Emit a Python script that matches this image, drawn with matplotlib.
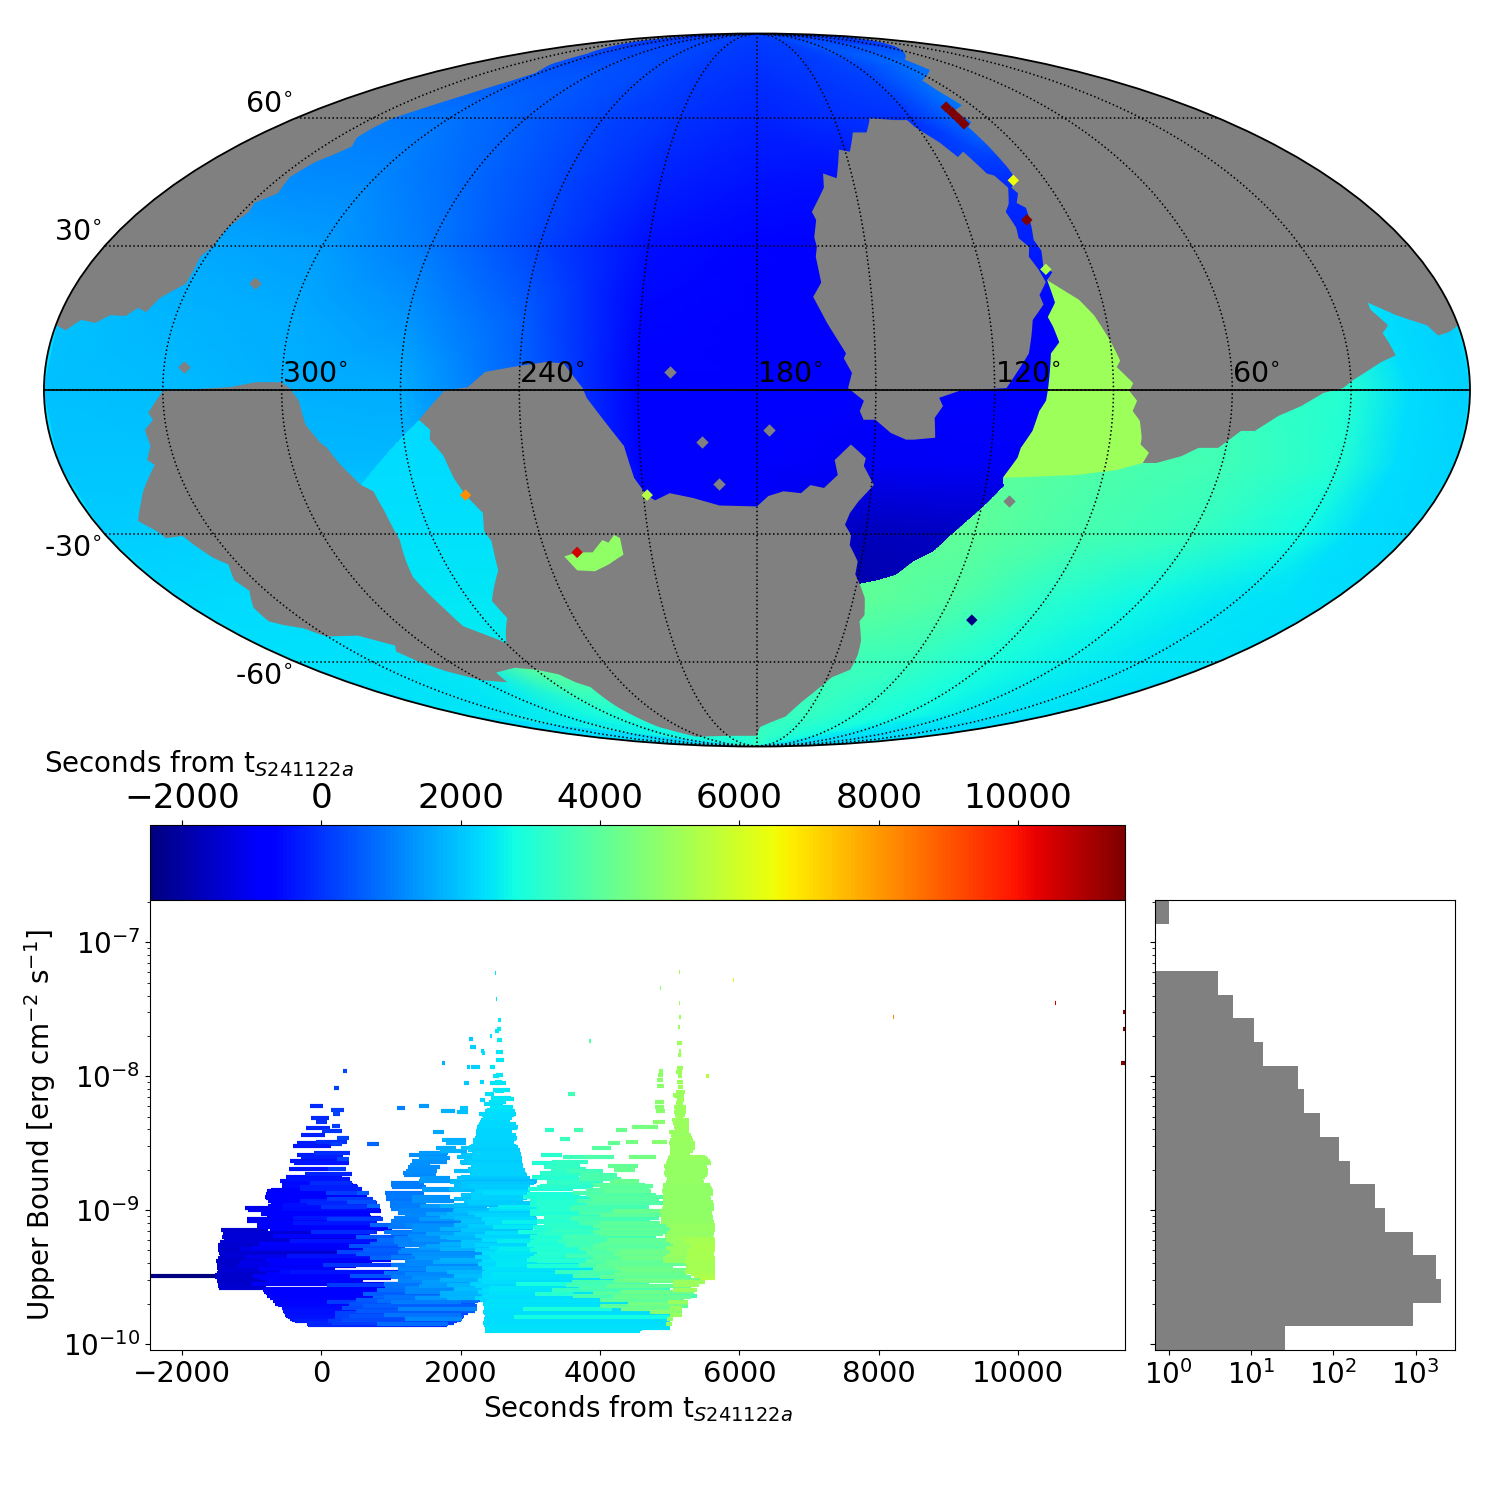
import numpy as np
import matplotlib
matplotlib.use('Agg')
import matplotlib.pyplot as plt
from matplotlib.patches import Polygon

# time range of the colour scale, seconds from the event
t_min = -2459.
t_max = 11535.
cb_ticks = [-2000, 0, 2000, 4000, 6000, 8000, 10000]
grey = '#808080'

# ---- sky map: outlines as (lon, lat) in degrees ----
nw_gray = [(360, 13.3), (357, 12.3), (354, 14.4), (350, 13.8), (347, 15.4), (343, 15.2), (340.5, 16.9), (338, 16),
           (336, 19), (331, 22), (331, 25), (331.5, 27.7), (330, 30), (330, 34), (328, 37.5), (329, 39.5),
           (325, 41.7), (327, 45.5), (325, 49), (322, 51), (320, 52.8), (323, 55), (323, 57.5), (322, 60),
           (317, 63), (311, 66.5), (304.5, 70.7), (302, 73), (308, 76), (309, 79.7), (326, 85.3), (323, 88),
           (360, 88), (360, 50)]

ne_gray = [(23, 87), (81, 77.5), (81, 74), (96, 70.7), (96, 67.5), (94, 63.5), (100, 62), (98, 59), (101, 57.7),
           (100, 53.3), (99, 47.5), (99, 44.7), (102, 43), (101, 41.7), (103, 39.5), (101, 38.4), (102, 34.4),
           (103, 31.3), (102, 29), (103, 25.5), (101, 24.4), (103, 22.7), (96, 18.6), (93, 15.4), (90, 10.2),
           (88, 6), (89, 4.7), (85, 1.4), (86, -0.2), (84, -2.2), (85, -4.3), (83, -6.3), (82, -9.8), (82, -11.2),
           (79.5, -12.9), (80.5, -15), (77, -15), (71, -13.6), (67, -11.9), (62, -11.9), (59, -9.8), (57, -8.4),
           (53.5, -8.4), (48, -5.3), (42.5, -3.3), (37, -0.6), (32, 0.4), (29.5, 2), (22, 5.7), (18, 7.1),
           (19, 9.6), (20, 11.7), (18, 13.3), (21, 16.5), (21, 18), (15, 15.4), (11.5, 14.3), (8, 13.3),
           (6, 11.2), (3, 11.9), (0, 13.3), (0, 40), (0, 70), (0, 87)]

island_gray = [(136, 60), (127, 59.5), (122, 59.5), (121, 57.7), (116, 53.8), (113, 50.2), (110, 51.5), (107, 46.3),
               (105, 45.8), (103, 43), (105.5, 39.3), (107.5, 37.5), (106.5, 34), (107, 31.7), (105, 29.8),
               (106, 27.7), (104.5, 25), (103.5, 22.3), (106, 19.6), (105.5, 17.6), (109, 14.4), (110, 10.8),
               (111, 7.5), (117, 0.4), (129, -0.2), (134, -1.6), (133, -3.3), (135, -5.7), (134.6, -9.8), (140, -10.2),
               (142, -10.2), (146, -8.8), (150, -6.1), (153, -6.1), (154, -4.3), (153, -2.2), (157, 0.4), (156, 3.5),
               (158, 6.5), (157.4, 7.5), (162, 13.8), (165.3, 19.2), (163, 22.2), (164, 27.7), (163.5, 29.8),
               (164, 31.9), (163, 35.7), (164, 37.5), (159.5, 43), (159, 46.3), (155, 45.2), (152, 52),
               (148.5, 51.5), (145, 56.3), (140, 56.3)]

south_gray = [(330, -0.2), (334, -4.7), (333, -6.1), (335.5, -8.2), (335, -11.5), (337, -14.4), (335.5, -15.4),
              (341.6, -20.9), (344, -23.4), (348, -27.2), (345, -29.4), (344, -30.9), (339, -30.4), (337.6, -32.6),
              (335.6, -35.2), (333, -36.7), (336, -40.2), (335, -42.6), (340.5, -46.6), (342, -49.8), (339, -50.7),
              (334, -51.5), (330.5, -53.5), (319, -53.3), (311, -55.8), (314, -57.3), (312, -59.8), (308, -62.4),
              (300, -65), (290, -65.6), (288, -62.9), (277.6, -61.6), (270, -62.1), (263, -63.4), (260, -65.6),
              (256, -67), (257, -73.2), (256, -80), (246, -84), (207, -83.6), (180, -83.6), (177.6, -80),
              (162, -76.2), (157, -71.7), (153, -68.6), (148, -64.2), (142, -62.1), (142, -58.2), (143, -54.7),
              (146, -49.8), (145, -48.3), (146.5, -44.3), (149, -41.2), (151, -38.9), (151, -36), (154, -32.4),
              (154, -30.2), (156, -28), (155, -25.5), (153, -23), (149.4, -19.6), (152.4, -15.6), (152, -14),
              (156, -11.2), (160, -14.4), (159, -17.5), (162.4, -20.2), (166, -19.6), (168.4, -21.3), (173, -20.9),
              (177, -21.9), (180, -24.1), (190, -23.9), (197, -22.3), (203, -21.3), (207, -22.8), (209, -21.9),
              (212, -18.1), (214, -11.5), (217, -8.2), (223, -1.6), (224, 0.4), (229, 5.5), (233.7, 5.7),
              (242, 4.7), (248.7, 3.7), (253, 0.6), (259, -0.2), (265.6, -6.1), (263, -8.2), (263.4, -10.2),
              (260.5, -13.5), (259, -18.1), (257, -21.7), (253.7, -25.5), (255, -29.4), (254, -31.5), (254.5, -33.7),
              (255.7, -38), (263, -45), (262, -49), (270, -55.3), (271, -54.5), (279, -51), (280, -46.6), (281, -43.5),
              (282, -39.5), (281, -36), (279.4, -31.3), (279.7, -28), (280, -25), (281, -20.9), (283.7, -19.6),
              (287.5, -15.4), (290, -11.9), (291.5, -10.8), (294.5, -7.1), (295.7, -2.2), (298, 0.4), (300, 1.6),
              (306.5, 1.6), (313, 0.6)]

# blue / green edge of the late south-east exposure
se_outline = [(180, -90), (180, -70), (160, -50), (149, -41), (144, -40.2), (139, -39), (135, -36), (130, -33.7),
              (126.4, -30.2), (119.3, -23.9), (115.3, -19.8), (116, -18.1), (100, -15), (80, -10), (60, 5), (20, 30),
              (0, 30), (0, 20), (0, 10), (0, 0), (0, -10), (0, -20), (0, -30), (0, -40), (0, -50), (0, -60), (0, -70),
              (0, -80), (0, -85), (0, -90)]

wedge_outline = [(103, 22.7), (102.4, 18), (105, 15), (104, 12.9), (103, 9.8), (105.4, 7.5), (106.5, 0.4), (107, -2.2),
                 (108.6, -4.3), (110, -8.4), (112.5, -11.9), (113, -13.9), (116, -18.1), (97, -17.5), (87, -16.5),
                 (80.5, -15), (70, -10), (85, 25), (95, 28)]
wedge_time = 5100.

strip_outline = [(265.6, -6.1), (235, -20), (235, -56), (300, -56), (300, -20), (283.7, -19.6)]
strip_lons = [300, 235]
strip_lats = [0, -20, -40, -60]
strip_times = [[2250, 2250], [2350, 2350], [2450, 2450], [2520, 2520]]

patch_outline = [(235, -34.9), (232.6, -38), (227.5, -38.2), (223, -36.7), (218, -34.5), (218, -30.9), (219.5, -30.2),
                 (221.5, -31.9), (223, -31.3), (226.6, -34), (231, -34)]
patch_time = 4900.

# polar cap under the coarse time table
cap_outline = [(360, 80), (270, 80), (180, 80), (90, 80), (0, 80), (0, 90), (360, 90)]
cap_time = 150.

# arrival time tables (lat rows, lon columns)
base_lons = [360, 330, 300, 270, 240, 210, 180, 150, 120, 90, 0]
base_lats = [90, 75, 60, 45, 30, 15, 0, -15, -30, -45, -60, -75, -90]
base_times = [
    [150, 150, 150, 150, 150, 150, 150, 150, 150, 150, 150],
    [400, 400, 400, 400, 300, 100, -50, 100, 250, 800, 800],
    [1000, 1000, 900, 600, 250, -50, -250, -100, 50, 1100, 1100],
    [1300, 1250, 1200, 720, 250, -270, -450, -500, -100, -100, 2200],
    [1650, 1600, 1450, 950, 250, -500, -700, -800, -300, -300, 2200],
    [1950, 1800, 1650, 1350, 600, -650, -800, -850, -850, -850, 2200],
    [1950, 1900, 1750, 1650, 700, -800, -850, -850, -850, -850, 2200],
    [2000, 2000, 1850, 1850, 700, -850, -850, -1000, -950, -1000, 2200],
    [2100, 2150, 2300, 2300, 2300, -900, -900, -1700, -1600, -1500, 2250],
    [2250, 2350, 2400, 2400, 2400, -900, -900, -1900, -1700, -1500, 2350],
    [2400, 2400, 2450, 4200, 4000, 3500, 3300, 3300, 3300, 3000, 2400],
    [2420, 2450, 2600, 3000, 3100, 3100, 3300, 3300, 3100, 3000, 2400],
    [3000, 3000, 3000, 3000, 3000, 3100, 3300, 3300, 3100, 3000, 2400],
]

se_lons = [180, 150, 120, 90, 60, 30, 15, 0]
se_lats = [30, 0, -15, -30, -45, -60, -75, -90]
se_times = [
    [4000, 4000, 3900, 3700, 3400, 3100, 2300, 2150],
    [4000, 4000, 3900, 3700, 3400, 3050, 2300, 2150],
    [4100, 4100, 4000, 3750, 3500, 3050, 2350, 2200],
    [4100, 4100, 4000, 3650, 3350, 2750, 2350, 2250],
    [4100, 4050, 3800, 3150, 2700, 2450, 2380, 2350],
    [3600, 3500, 3350, 2900, 2600, 2450, 2420, 2400],
    [3400, 3350, 3050, 2800, 2550, 2450, 2420, 2400],
    [3300, 3100, 3000, 2800, 2550, 2450, 2420, 2400],
]

# single masked / outlying pixels
gray_spot_lon = [313, 325, 202, 194, 177, 190, 113]
gray_spot_lat = [22.2, 4.7, 3.7, -10.6, -8.2, -19.4, -23]
pix_lon = [100, 102.5, 209, 257, 231, 109, 102.5, 101.5, 101.5, 101.5, 101.5]
pix_lat = [44.7, 25, -21.7, -21.7, -34, -49.5, 35.7, 58.5, 60, 61.5, 63]
pix_time = [6500, 5400, 5500, 8200, 10550, -2400, 11500, 11500, 11500, 11500, 11500]

lon_labels = [300, 240, 180, 120, 60]
lat_labels = [60, 30, -30, -60]

# ---- upper bound vs. time: (log10 bound, start, end) ----
early_bars = [
    (-7.96, 316, 373), (-8.09, 187, 258), (-8.22, -158, 29), (-8.25, 144, 330), (-8.28, 172, 273), (-8.31, -143, 115),
    (-8.34, -72, 86), (-8.39, -215, 129), (-8.37, 158, 273), (-8.41, 14, 301), (-8.44, -287, 57), (-8.46, 230, 402),
    (-8.49, -72, 373), (-8.5, -344, 143), (-8.52, -402, 143), (-8.51, 143, 301), (-8.51, 660, 832), (-8.57, -100, 416),
    (-8.59, -344, 230), (-8.6, -287, 316), (-8.63, -445, 230), (-8.62, 230, 402), (-8.65, -387, 402), (-8.69, -459, 100),
    (-8.69, 100, 359), (-8.73, -230, 445), (-8.77, -488, 416), (-8.78, -588, 273), (-8.8, -158, 445), (-8.82, -560, 517),
    (-8.84, -301, 588), (-8.85, -717, 72), (-8.86, -775, -301), (-8.87, 517, 689), (-8.87, 72, 603), (-8.9, -804, 143),
    (-8.92, 86, 746), (-8.93, -761, 29), (-8.95, -717, 373), (-8.94, 373, 789), (-8.96, -545, 660), (-8.97, 660, 847),
    (-8.985, -1090, 0), (-8.98, 0, 660), (-8.99, -560, 847), (-9.02, -861, 316), (-9.04, -775, 703), (-9.07, -1062, 86),
    (-9.07, 86, 890), (-9.11, -918, 746), (-9.14, -732, 1020), (-9.15, -1435, -760), (-9.17, -1406, -143),
    (-9.16, -143, 804), (-9.2, -1420, -445), (-9.22, -1377, 517), (-9.23, -445, 1277), (-9.26, -1478, -804),
    (-9.29, -1478, -1162), (-9.29, -1162, 1020), (-9.32, -1464, 230), (-9.31, 230, 1277), (-9.34, -1406, -488),
    (-9.34, -488, 1420), (-9.38, -1506, -1162), (-9.39, -1162, 732), (-9.43, -1492, -732), (-9.4, -732, 29),
    (-9.41, 29, 1822), (-9.45, -1420, -445), (-9.46, -445, 1392), (-9.485, -1521, -732), (-9.49, -2459, -1521),
    (-9.49, -976, 416), (-9.49, 416, 1808), (-9.53, -1492, -760), (-9.52, -775, 603), (-9.57, -1478, -832),
    (-9.6, -832, 890), (-9.56, 86, 1851), (-9.58, 918, 1851), (-9.64, -775, 746), (-9.65, 746, 1593), (-9.68, -689, 86),
    (-9.69, 86, 1636), (-9.75, -545, 1464), (-9.78, -517, 890), (-9.8, -474, 1665), (-9.83, -373, 416), (-9.84, -201, 1822),
    (-8.75, -500, 300), (-8.79, -550, 400), (-8.81, -570, 450), (-8.83, -300, 520), (-8.88, -790, 100), (-8.89, -760, 650),
    (-8.91, -800, 50), (-8.93, -300, 700), (-8.95, -200, 800), (-8.97, -770, 600), (-9.0, -1050, 300), (-9.01, -850, 850),
    (-9.03, -860, 500), (-9.05, -780, 720), (-9.06, -400, 850), (-9.08, -1060, 400), (-9.09, -900, 700), (-9.1, -400, 800),
    (-9.12, -920, 750), (-9.13, -900, 300), (-9.18, -1400, -300), (-9.19, -700, 700), (-9.21, -1390, 0), (-9.24, -1450, -500),
    (-9.25, -900, 900), (-9.27, -1470, -200), (-9.28, -1000, 600), (-9.3, -1480, -800), (-9.33, -1450, 100), (-9.35, -1100, 800),
    (-9.36, -1480, -300), (-9.37, -800, 1000), (-9.41, -1500, -600), (-9.42, -1200, 500), (-9.44, -1480, -300), (-9.47, -1500, -200),
    (-9.48, -800, 900), (-9.5, -1520, -500), (-9.51, -900, 1000), (-9.54, -1490, -600), (-9.55, -1000, 1100), (-9.58, -1470, -800),
    (-9.59, -800, 1200), (-9.61, -820, 700), (-9.62, -790, 1000), (-9.63, -780, 600), (-9.66, -740, 1200), (-9.67, -700, 800),
    (-9.7, -660, 1300), (-9.71, -620, 500), (-9.73, -570, 900), (-9.74, -550, 1500), (-9.76, -530, 1100), (-9.77, -520, 1400),
    (-9.79, -500, 1200), (-9.81, -450, 1500), (-9.82, -420, 900), (-9.85, -200, 1800), (-9.86, -190, 1800),
    (-9.11, 700, 1100), (-9.2, 500, 1500), (-9.22, 800, 1350), (-9.25, 700, 1400), (-9.27, 400, 1200), (-9.3, 600, 1300),
    (-9.33, 500, 1300), (-9.36, 700, 1400), (-9.44, -900, 200), (-9.46, -600, 400),
]

mid_bars = [
    (-7.9, 1736, 1780), (-8.24, 1090, 1205), (-8.22, 1406, 1550), (-8.26, 1722, 1923), (-8.42, 1607, 1765),
    (-8.48, 1736, 2081), (-8.54, 1650, 1937), (-8.57, 1406, 1822), (-8.59, 1263, 1808), (-8.61, 1406, 1851),
    (-8.63, 1306, 1750), (-8.66, 1277, 1564), (-8.71, 1220, 1665), (-8.72, 1177, 1607), (-8.76, 1420, 1851),
    (-8.81, 1005, 1464), (-8.87, 918, 1464), (-8.84, 1450, 1851), (-8.9, 933, 1306), (-8.9, 1306, 1851),
    (-8.97, 990, 1420), (-8.97, 1420, 1851), (-9.0, 1100, 2300), (-9.04, 1200, 2400), (-9.08, 1000, 2200),
    (-9.12, 1300, 2500), (-9.16, 900, 2200), (-9.19, 1250, 2600), (-9.24, 1050, 2400), (-9.28, 1400, 2500),
    (-9.31, 1100, 2450), (-9.36, 1350, 2550), (-9.4, 1200, 2500), (-9.43, 1500, 2500), (-9.47, 900, 2300),
    (-9.51, 1300, 2300), (-9.54, 1450, 2400), (-9.58, 1200, 2400), (-9.62, 1700, 2650), (-9.66, 1350, 2300),
    (-9.69, 1000, 2000), (-9.74, 1100, 2240), (-9.78, 900, 2000), (-9.81, 1200, 2020), (-9.85, 800, 1822),
    (-8.64, 1300, 1800), (-8.68, 1250, 1700), (-8.74, 1180, 1650), (-8.78, 1400, 1850), (-8.8, 1000, 1480), (-8.83, 1020, 1500),
    (-8.85, 1450, 1900), (-8.88, 950, 1480), (-8.92, 930, 1450), (-8.93, 1300, 1900), (-8.95, 990, 1500), (-8.99, 1000, 1750),
    (-9.02, 1100, 2000), (-9.03, 1500, 2300), (-9.06, 1050, 1800), (-9.07, 1400, 2300), (-9.1, 1000, 2400), (-9.11, 1200, 2300),
    (-9.13, 950, 1900), (-9.15, 1300, 2400), (-9.17, 1000, 2200), (-9.18, 1500, 2500), (-9.21, 1050, 2400), (-9.22, 1300, 2500),
    (-9.26, 1100, 2500), (-9.27, 1500, 2500), (-9.3, 1150, 2500), (-9.33, 1300, 2550), (-9.35, 1000, 2400), (-9.38, 1200, 2400),
    (-9.39, 1600, 2500), (-9.41, 1000, 2500), (-9.44, 1100, 2300), (-9.45, 1500, 2500), (-9.48, 1200, 2300), (-9.5, 1000, 2400),
    (-9.53, 1100, 2300), (-9.55, 900, 2300), (-9.57, 1400, 2400), (-9.6, 800, 2300), (-9.61, 1200, 2300), (-9.63, 600, 2300),
    (-9.65, 900, 2300), (-9.67, 500, 2300), (-9.68, 800, 2250), (-9.7, 400, 2200), (-9.72, 600, 2240), (-9.73, 300, 2200),
    (-9.75, 500, 2200), (-9.77, 200, 2100), (-9.79, 400, 2050), (-9.8, 200, 2040), (-9.82, 300, 2000), (-9.83, 100, 1950),
    (-9.84, 150, 1900),
    (-9.46, 1800, 2500), (-9.49, 1900, 2500), (-9.52, 1700, 2500), (-9.56, 1800, 2500), (-9.59, 1900, 2450),
    (-9.62, 1800, 2450), (-9.64, 1700, 2450), (-9.66, 1800, 2400),
]

cyan_bars = [
    (-7.23, 2497, 2511), (-7.42, 2511, 2525), (-7.58, 2540, 2583), (-7.65, 2525, 2583), (-7.66, 2497, 2554),
    (-7.7, 2425, 2454), (-7.73, 2525, 2597), (-7.72, 2124, 2181), (-7.78, 2138, 2224), (-7.81, 2296, 2339),
    (-7.83, 2310, 2353), (-7.82, 2511, 2612), (-7.88, 2511, 2626), (-7.93, 2095, 2138), (-7.93, 2153, 2282),
    (-7.93, 2425, 2497), (-7.99, 2511, 2612), (-8.0, 2468, 2554), (-8.04, 2497, 2597), (-8.04, 2282, 2339),
    (-8.05, 2052, 2124), (-8.05, 2425, 2655), (-8.1, 2468, 2712), (-8.11, 2497, 2626), (-8.13, 2353, 2483),
    (-8.16, 2440, 2726), (-8.18, 2282, 2353), (-8.17, 2468, 2770), (-8.21, 2339, 2612), (-8.25, 2382, 2755),
    (-8.24, 1995, 2110), (-8.27, 1952, 2110), (-8.28, 2267, 2798), (-8.31, 2325, 2741), (-8.34, 2282, 2712),
    (-8.38, 2239, 2827), (-8.41, 2224, 2741), (-8.46, 2210, 2813), (-8.5, 1794, 2081), (-8.5, 2181, 2770),
    (-8.54, 2009, 2827), (-8.56, 1708, 2095), (-8.57, 2167, 2856), (-8.6, 1952, 2856), (-8.61, 2167, 2885),
    (-8.64, 1995, 2813), (-8.68, 2167, 2899), (-8.73, 2138, 2942), (-8.78, 1851, 3100), (-8.84, 1837, 2741),
    (-8.87, 2325, 2999), (-8.9, 2181, 2899), (-8.94, 2110, 2899), (-8.97, 1708, 2382), (-8.98, 2540, 3100),
    (-9.01, 1894, 2999), (-9.05, 1708, 2612), (-9.09, 2597, 3100), (-9.14, 1708, 2468), (-9.13, 2468, 3042),
    (-9.2, 1708, 2526), (-9.16, 2827, 3573), (-9.23, 2526, 3100), (-9.25, 1708, 3042), (-9.29, 2540, 3860),
    (-9.29, 1708, 2569), (-9.34, 2425, 2956), (-9.37, 1708, 2425), (-9.37, 2956, 4104), (-9.42, 2956, 3960),
    (-9.49, 2325, 3616), (-9.49, 3616, 4965), (-9.55, 2138, 3042), (-9.55, 2798, 4334), (-9.59, 2425, 3430),
    (-9.63, 3071, 3616), (-9.66, 2210, 3143), (-9.72, 2353, 4004), (-9.74, 2899, 4176), (-9.76, 2325, 4721),
    (-9.8, 2770, 5008), (-9.84, 2325, 4965), (-9.87, 2353, 5008), (-9.9, 2353, 4578),
    (-8.19, 2400, 2650), (-8.23, 2420, 2750), (-8.26, 2350, 2780), (-8.29, 2300, 2770), (-8.3, 2330, 2720), (-8.33, 2290, 2700),
    (-8.36, 2270, 2800), (-8.37, 2250, 2760), (-8.39, 2240, 2810), (-8.43, 2230, 2720), (-8.44, 2220, 2800), (-8.47, 2200, 2790),
    (-8.48, 2180, 2770), (-8.52, 2150, 2800), (-8.53, 2120, 2830), (-8.55, 2100, 2850), (-8.58, 2160, 2860), (-8.59, 2000, 2860),
    (-8.62, 2050, 2880), (-8.63, 2100, 2850), (-8.65, 2000, 2880), (-8.66, 2150, 2890), (-8.69, 2100, 2900), (-8.7, 2150, 2920),
    (-8.71, 1900, 2900), (-8.74, 2130, 2950), (-8.75, 2000, 2950), (-8.76, 1950, 3000), (-8.79, 1850, 3080), (-8.8, 2000, 3050),
    (-8.81, 1900, 2900), (-8.82, 2100, 3000), (-8.83, 2000, 2950), (-8.85, 1900, 3000), (-8.86, 2200, 3000), (-8.88, 2150, 2950),
    (-8.89, 2000, 2900), (-8.91, 2150, 2950), (-8.92, 1900, 2900), (-8.93, 2050, 2900), (-8.95, 2100, 3000), (-8.96, 1900, 3050),
    (-8.99, 2400, 3100), (-9.0, 1900, 3000), (-9.02, 2100, 3020), (-9.03, 1800, 3000), (-9.04, 2200, 3050), (-9.06, 1900, 3080),
    (-9.07, 2300, 3100), (-9.08, 2000, 3100), (-9.1, 2350, 3100), (-9.11, 1900, 3050), (-9.12, 2100, 3060), (-9.15, 2000, 3040),
    (-9.17, 2350, 3100), (-9.18, 1900, 3060), (-9.19, 2200, 3100), (-9.21, 1800, 3050), (-9.22, 2300, 3100), (-9.24, 2000, 3070),
    (-9.26, 2200, 3100), (-9.27, 2000, 3200), (-9.28, 2400, 3400), (-9.3, 2200, 3100), (-9.31, 2500, 3500), (-9.32, 2300, 3200),
    (-9.33, 2400, 3300), (-9.35, 2200, 3600), (-9.36, 2450, 3600), (-9.38, 2300, 3500), (-9.39, 2500, 3800), (-9.4, 2250, 3700),
    (-9.41, 2500, 3800), (-9.43, 2300, 3900), (-9.44, 2400, 3900), (-9.45, 2350, 4000), (-9.47, 2300, 3900), (-9.48, 2450, 4100),
    (-9.5, 2300, 4200), (-9.51, 2400, 4300), (-9.52, 2250, 4200), (-9.53, 2350, 4300), (-9.54, 2300, 4400), (-9.57, 2200, 4300),
    (-9.58, 2400, 4500), (-9.6, 2300, 4600), (-9.61, 2250, 4500), (-9.62, 2400, 4700), (-9.64, 2300, 4500), (-9.65, 2350, 4800),
    (-9.67, 2280, 4600), (-9.68, 2400, 4900), (-9.69, 2350, 4800), (-9.7, 2320, 4950), (-9.71, 2350, 4900), (-9.73, 2340, 4980),
    (-9.75, 2330, 5000), (-9.77, 2330, 5000), (-9.78, 2350, 4990), (-9.79, 2350, 5010), (-9.81, 2340, 5000), (-9.82, 2330, 5010),
    (-9.83, 2340, 4990), (-9.85, 2350, 5000), (-9.86, 2340, 5010), (-9.88, 2360, 5000), (-9.89, 2360, 4600),
]

green_bars = [
    (-8.59, 3157, 3458), (-8.4, 3214, 3343), (-8.4, 3630, 3760), (-8.47, 3430, 3573), (-8.13, 3544, 3644),
    (-7.74, 3846, 3875), (-8.4, 4233, 4391), (-8.38, 4463, 4836), (-8.5, 4118, 4291), (-8.49, 4377, 4549),
    (-8.54, 3889, 4162), (-8.6, 3473, 3903), (-8.6, 3760, 4205), (-8.6, 4420, 4807), (-8.65, 3028, 3573),
    (-8.64, 3315, 3832), (-8.67, 3243, 3717), (-8.67, 4118, 4549), (-8.72, 3143, 3530), (-8.71, 3530, 4047),
    (-8.74, 3717, 4248), (-8.75, 3028, 3616), (-8.79, 3243, 4047), (-8.79, 4147, 4549), (-8.82, 3143, 3700),
    (-8.82, 4004, 4764), (-8.84, 2970, 3616), (-8.86, 4047, 4735), (-8.87, 3616, 4477), (-8.9, 2899, 3717),
    (-8.9, 3860, 4908), (-8.93, 3000, 3800), (-8.93, 3674, 4621), (-8.97, 3100, 3700), (-8.99, 3573, 4678),
    (-9.01, 4190, 4908), (-9.01, 3000, 3900), (-9.08, 3100, 3600), (-9.07, 3573, 4721), (-9.1, 4004, 4865),
    (-9.13, 3042, 4047), (-9.14, 4004, 5051), (-9.2, 3458, 4578), (-9.24, 3530, 4764), (-9.28, 3903, 4965),
    (-9.31, 4291, 5008), (-9.34, 3516, 4764), (-9.39, 4075, 4865), (-9.42, 3946, 4764), (-9.43, 4219, 5051),
    (-9.46, 3358, 4678), (-9.52, 4334, 5439), (-9.56, 3516, 4391), (-9.6, 3315, 5008), (-9.64, 3616, 5396),
    (-9.72, 4004, 5266), (-9.76, 4721, 5180),
    (-8.68, 3200, 3650), (-8.69, 3300, 3800), (-8.7, 4200, 4500), (-8.73, 3200, 3900), (-8.76, 3100, 3700), (-8.77, 3700, 4300),
    (-8.78, 4200, 4560), (-8.8, 3250, 4000), (-8.81, 3900, 4650), (-8.83, 3100, 3900), (-8.85, 3800, 4700), (-8.88, 2950, 3700),
    (-8.89, 3800, 4800), (-8.91, 3000, 3900), (-8.92, 3900, 4850), (-8.94, 3100, 4000), (-8.95, 3800, 4900), (-8.96, 3000, 3800),
    (-8.98, 3600, 4700), (-9.0, 3100, 4100), (-9.02, 3700, 4900), (-9.03, 3000, 3900), (-9.04, 4000, 4920), (-9.05, 3200, 4200),
    (-9.06, 3600, 4850), (-9.09, 3100, 3900), (-9.1, 3700, 4800), (-9.11, 3200, 4300), (-9.12, 3900, 4950), (-9.15, 3300, 4300),
    (-9.16, 3900, 5000), (-9.17, 3200, 4400), (-9.18, 4000, 4900), (-9.19, 3500, 4500), (-9.21, 3600, 4800), (-9.22, 4100, 5000),
    (-9.23, 3400, 4600), (-9.25, 4000, 5000), (-9.26, 3500, 4700), (-9.27, 3900, 5100), (-9.29, 3700, 4900), (-9.3, 4100, 5100),
    (-9.32, 3800, 5000), (-9.33, 4200, 5050), (-9.35, 3900, 5000), (-9.36, 4300, 5200), (-9.38, 3800, 5000), (-9.4, 4100, 5250),
    (-9.41, 3700, 4900), (-9.44, 3900, 5050), (-9.45, 4300, 5260), (-9.47, 3700, 4900), (-9.48, 4200, 5250), (-9.5, 4000, 5300),
    (-9.53, 4200, 5400), (-9.54, 3600, 4700), (-9.57, 4100, 5300), (-9.58, 3700, 4900), (-9.61, 4300, 5350), (-9.62, 3900, 5000),
    (-9.65, 4200, 5300), (-9.67, 4000, 5200), (-9.7, 4400, 5250), (-9.74, 4300, 5100),
    (-9.14, 3050, 3800), (-9.16, 3000, 3700), (-9.18, 3100, 3800), (-9.2, 3000, 3700), (-9.22, 3050, 3900), (-9.24, 3000, 3700),
    (-9.26, 2950, 3800), (-9.28, 3050, 3950), (-9.3, 3000, 3800), (-9.32, 3100, 3900), (-9.34, 3050, 3800), (-9.36, 3000, 3700),
    (-9.38, 3100, 3900),
]

late_bars = [
    (-8.34, 4764, 4936), (-8.49, 4750, 4965), (-8.19, 4793, 4922), (-8.23, 4793, 4922), (-8.26, 4807, 4936),
    (-8.07, 4822, 4922), (-8.03, 4822, 4908), (-7.99, 4836, 4908), (-7.96, 4850, 4908), (-7.34, 4865, 4879),
    (-7.22, 5137, 5152), (-7.45, 5137, 5152), (-7.56, 5137, 5166), (-7.63, 5123, 5152), (-7.75, 5108, 5180),
    (-7.81, 5137, 5166), (-7.84, 5123, 5166), (-7.94, 5108, 5195), (-7.97, 5094, 5180), (-8.0, 5123, 5180),
    (-8.04, 5108, 5195), (-8.08, 5123, 5195), (-8.12, 5094, 5223), (-8.14, 5051, 5137), (-8.22, 5094, 5180),
    (-8.23, 5065, 5238), (-8.27, 5065, 5238), (-8.31, 5094, 5195), (-8.33, 5037, 5281), (-8.4, 5080, 5281),
    (-8.42, 4994, 5281), (-8.46, 5037, 5324), (-8.5, 4994, 5367), (-8.54, 5008, 5367), (-8.58, 5008, 5295),
    (-8.61, 4979, 5539), (-8.0, 5525, 5568), (-7.28, 5912, 5930), (-8.63, 4965, 5582), (-8.67, 4922, 5539),
    (-8.72, 4922, 5553), (-8.77, 4965, 5482), (-8.81, 4908, 5582), (-8.86, 4894, 5625), (-8.9, 4908, 5582),
    (-8.96, 4908, 5640), (-9.01, 4865, 5610), (-9.07, 4879, 5625), (-9.13, 5008, 5654), (-9.19, 4936, 5625),
    (-9.22, 5295, 5654), (-9.28, 5324, 5654), (-9.34, 5266, 5640), (-9.39, 5223, 5654), (-9.46, 5223, 5654),
    (-9.51, 5439, 5654), (-9.54, 5051, 5510), (-9.56, 5051, 5424), (-9.6, 5051, 5396), (-9.69, 4979, 5266),
    (-9.73, 5008, 5180), (-9.78, 5008, 5180), (-9.81, 4965, 5051), (-9.85, 4950, 5037),
    (-7.56, 8208, 8225), (-7.45, 10533, 10550), (-7.52, 11510, 11535), (-7.65, 11510, 11535), (-7.9, 11480, 11535),
    (-8.15, 5060, 5210), (-8.18, 5100, 5200), (-8.2, 5090, 5190), (-8.25, 5080, 5230), (-8.29, 5080, 5220), (-8.35, 5050, 5280),
    (-8.36, 5060, 5250), (-8.38, 5060, 5280), (-8.44, 5020, 5310), (-8.48, 5000, 5340), (-8.52, 5000, 5370), (-8.56, 5010, 5340),
    (-8.6, 4990, 5500), (-8.62, 4970, 5550), (-8.65, 4950, 5590), (-8.69, 4930, 5530), (-8.7, 4950, 5550), (-8.74, 4930, 5540),
    (-8.75, 4960, 5500), (-8.79, 4950, 5490), (-8.83, 4900, 5590), (-8.84, 4920, 5610), (-8.88, 4900, 5620), (-8.92, 4900, 5600),
    (-8.93, 4920, 5590), (-8.94, 4900, 5620), (-8.98, 4900, 5640), (-8.99, 4890, 5630), (-9.03, 4870, 5610), (-9.05, 4880, 5620),
    (-9.09, 4880, 5630), (-9.11, 4950, 5650), (-9.15, 5000, 5650), (-9.17, 4960, 5630), (-9.21, 5100, 5640), (-9.24, 5200, 5650),
    (-9.26, 5300, 5650), (-9.3, 5280, 5650), (-9.32, 5250, 5640), (-9.36, 5250, 5650), (-9.37, 5230, 5650), (-9.41, 5230, 5650),
    (-9.43, 5230, 5650), (-9.48, 5300, 5650), (-9.49, 5350, 5650),
    (-9.2, 5000, 5300), (-9.22, 4950, 5300), (-9.24, 5000, 5350), (-9.26, 5050, 5350), (-9.28, 4950, 5330), (-9.3, 5000, 5300),
    (-9.32, 5000, 5260), (-9.34, 4950, 5270), (-9.36, 4900, 5260), (-9.38, 4900, 5230),
]

ub_ticks = [1e-10, 1e-9, 1e-8, 1e-7]
count_ticks = [1, 10, 100, 1000]

# ---- histogram of upper bounds ----
hist_log_edges = np.linspace(-10.045, -6.684, 20)
hist_counts = [26, 924, 2025, 1760, 924, 422, 318, 158, 116, 70, 44, 37, 14, 11, 6, 4, 0, 0, 1]

cmap = plt.get_cmap('jet')
norm = matplotlib.colors.Normalize(t_min, t_max)


def sky(lon, lat):
    return np.radians(180. - np.asarray(lon, dtype=float)), np.radians(np.asarray(lat, dtype=float))


def sky_xy(outline):
    lon, lat = zip(*outline)
    x, y = sky(lon, lat)
    return np.column_stack((x, y))


def field(ax, lons, lats, times, outline=None):
    # smooth arrival time field, optionally cut down to one exposure
    x, y = np.meshgrid(lons, lats)
    x, y = sky(x, y)
    mesh = ax.pcolormesh(x, y, np.array(times, dtype=float), cmap=cmap, norm=norm, shading='gouraud', zorder=1)
    if outline is not None:
        mesh.set_clip_path(Polygon(sky_xy(outline), closed=True, transform=ax.transData))


fig = plt.figure(figsize=(15, 15))

ax_sky = fig.add_axes([0.0293, 0.502, 0.9507, 0.476], projection='mollweide')
ax_sky.set_facecolor(cmap(norm(2350)))
ax_sky.add_patch(Polygon(sky_xy(cap_outline), closed=True, fc=cmap(norm(cap_time)), ec='none', zorder=0.9))
field(ax_sky, base_lons, base_lats, base_times)
field(ax_sky, se_lons, se_lats, se_times, se_outline)
field(ax_sky, strip_lons, strip_lats, strip_times, strip_outline)
ax_sky.add_patch(Polygon(sky_xy(wedge_outline), closed=True, fc=cmap(norm(wedge_time)), ec='none', zorder=1.2))
for outline in [nw_gray, ne_gray, island_gray, south_gray]:
    ax_sky.add_patch(Polygon(sky_xy(outline), closed=True, fc=grey, ec='none', zorder=1.5))
ax_sky.add_patch(Polygon(sky_xy(patch_outline), closed=True, fc=cmap(norm(patch_time)), ec='none', zorder=1.6))
x, y = sky(gray_spot_lon, gray_spot_lat)
ax_sky.scatter(x, y, s=40, marker='D', c=grey, linewidths=0, zorder=1.7)
x, y = sky(pix_lon, pix_lat)
ax_sky.scatter(x, y, s=34, marker='D', c=pix_time, cmap=cmap, norm=norm, linewidths=0, zorder=1.7)

ax_sky.set_longitude_grid(30)
ax_sky.set_latitude_grid(30)
ax_sky.set_longitude_grid_ends(90)
ax_sky.set_xticklabels([])
ax_sky.set_yticklabels([])
ax_sky.grid(True, color='k', linestyle=':', linewidth=1.1)
x, y = sky([360, 0], [0, 0])
ax_sky.plot(x, y, color='k', lw=1.2, zorder=3)
for sp in ax_sky.spines.values():
    sp.set_linewidth(1.3)
for lon in lon_labels:
    x, y = sky(lon, 0.4)
    ax_sky.text(x, y, '%d$^{\\circ}$' % lon, fontsize=20.5, ha='left', va='bottom', zorder=4)
for lat in lat_labels:
    x, y = sky(360, lat)
    ax_sky.annotate('%d$^{\\circ}$' % lat, (x, y), xytext=(-2, 0), textcoords='offset points',
                    fontsize=20.5, ha='right', va='bottom' if lat > 0 else 'top', annotation_clip=False)

ax_cb = fig.add_axes([0.1, 0.4, 0.65, 0.05])
sm = plt.cm.ScalarMappable(norm=norm, cmap=cmap)
cb = fig.colorbar(sm, cax=ax_cb, orientation='horizontal', ticklocation='top')
cb.set_ticks(cb_ticks)
cb.ax.tick_params(labelsize=24.7)
fig.text(0.0295, 0.4907, 'Seconds from t$_{S241122a}$', fontsize=20, ha='left', va='center')

ax_ub = fig.add_axes([0.1, 0.1, 0.65, 0.3])
for bars in [early_bars, mid_bars, cyan_bars, green_bars, late_bars]:
    log_ub, start, end = np.array(sorted(bars, key=lambda b: b[1])).T
    ax_ub.hlines(10**log_ub, start, end, colors=cmap(norm(start)), linewidth=3.0, capstyle='butt')
ax_ub.set_yscale('log')
ax_ub.set_xlim(t_min, t_max)
ax_ub.set_yticks(ub_ticks)
ax_ub.set_ylim(10**hist_log_edges[0], 10**hist_log_edges[-1])
ax_ub.tick_params(axis='x', labelsize=21)
ax_ub.tick_params(axis='y', labelsize=20)
ax_ub.set_xlabel('Seconds from t$_{S241122a}$', fontsize=20)
ax_ub.set_ylabel('Upper Bound [erg cm$^{-2}$ s$^{-1}$]', fontsize=20)

ax_hist = fig.add_axes([0.77, 0.1, 0.2, 0.3], sharey=ax_ub)
edges = 10**hist_log_edges
ax_hist.barh(edges[:-1], hist_counts, height=np.diff(edges), align='edge', color=grey)
ax_hist.set_xscale('log')
ax_hist.set_xticks(count_ticks)
ax_hist.set_xlim(0.682, 3020)
ax_hist.tick_params(labelsize=20)
ax_hist.tick_params(axis='y', labelleft=False)

fig.savefig('out.png', dpi=100)
